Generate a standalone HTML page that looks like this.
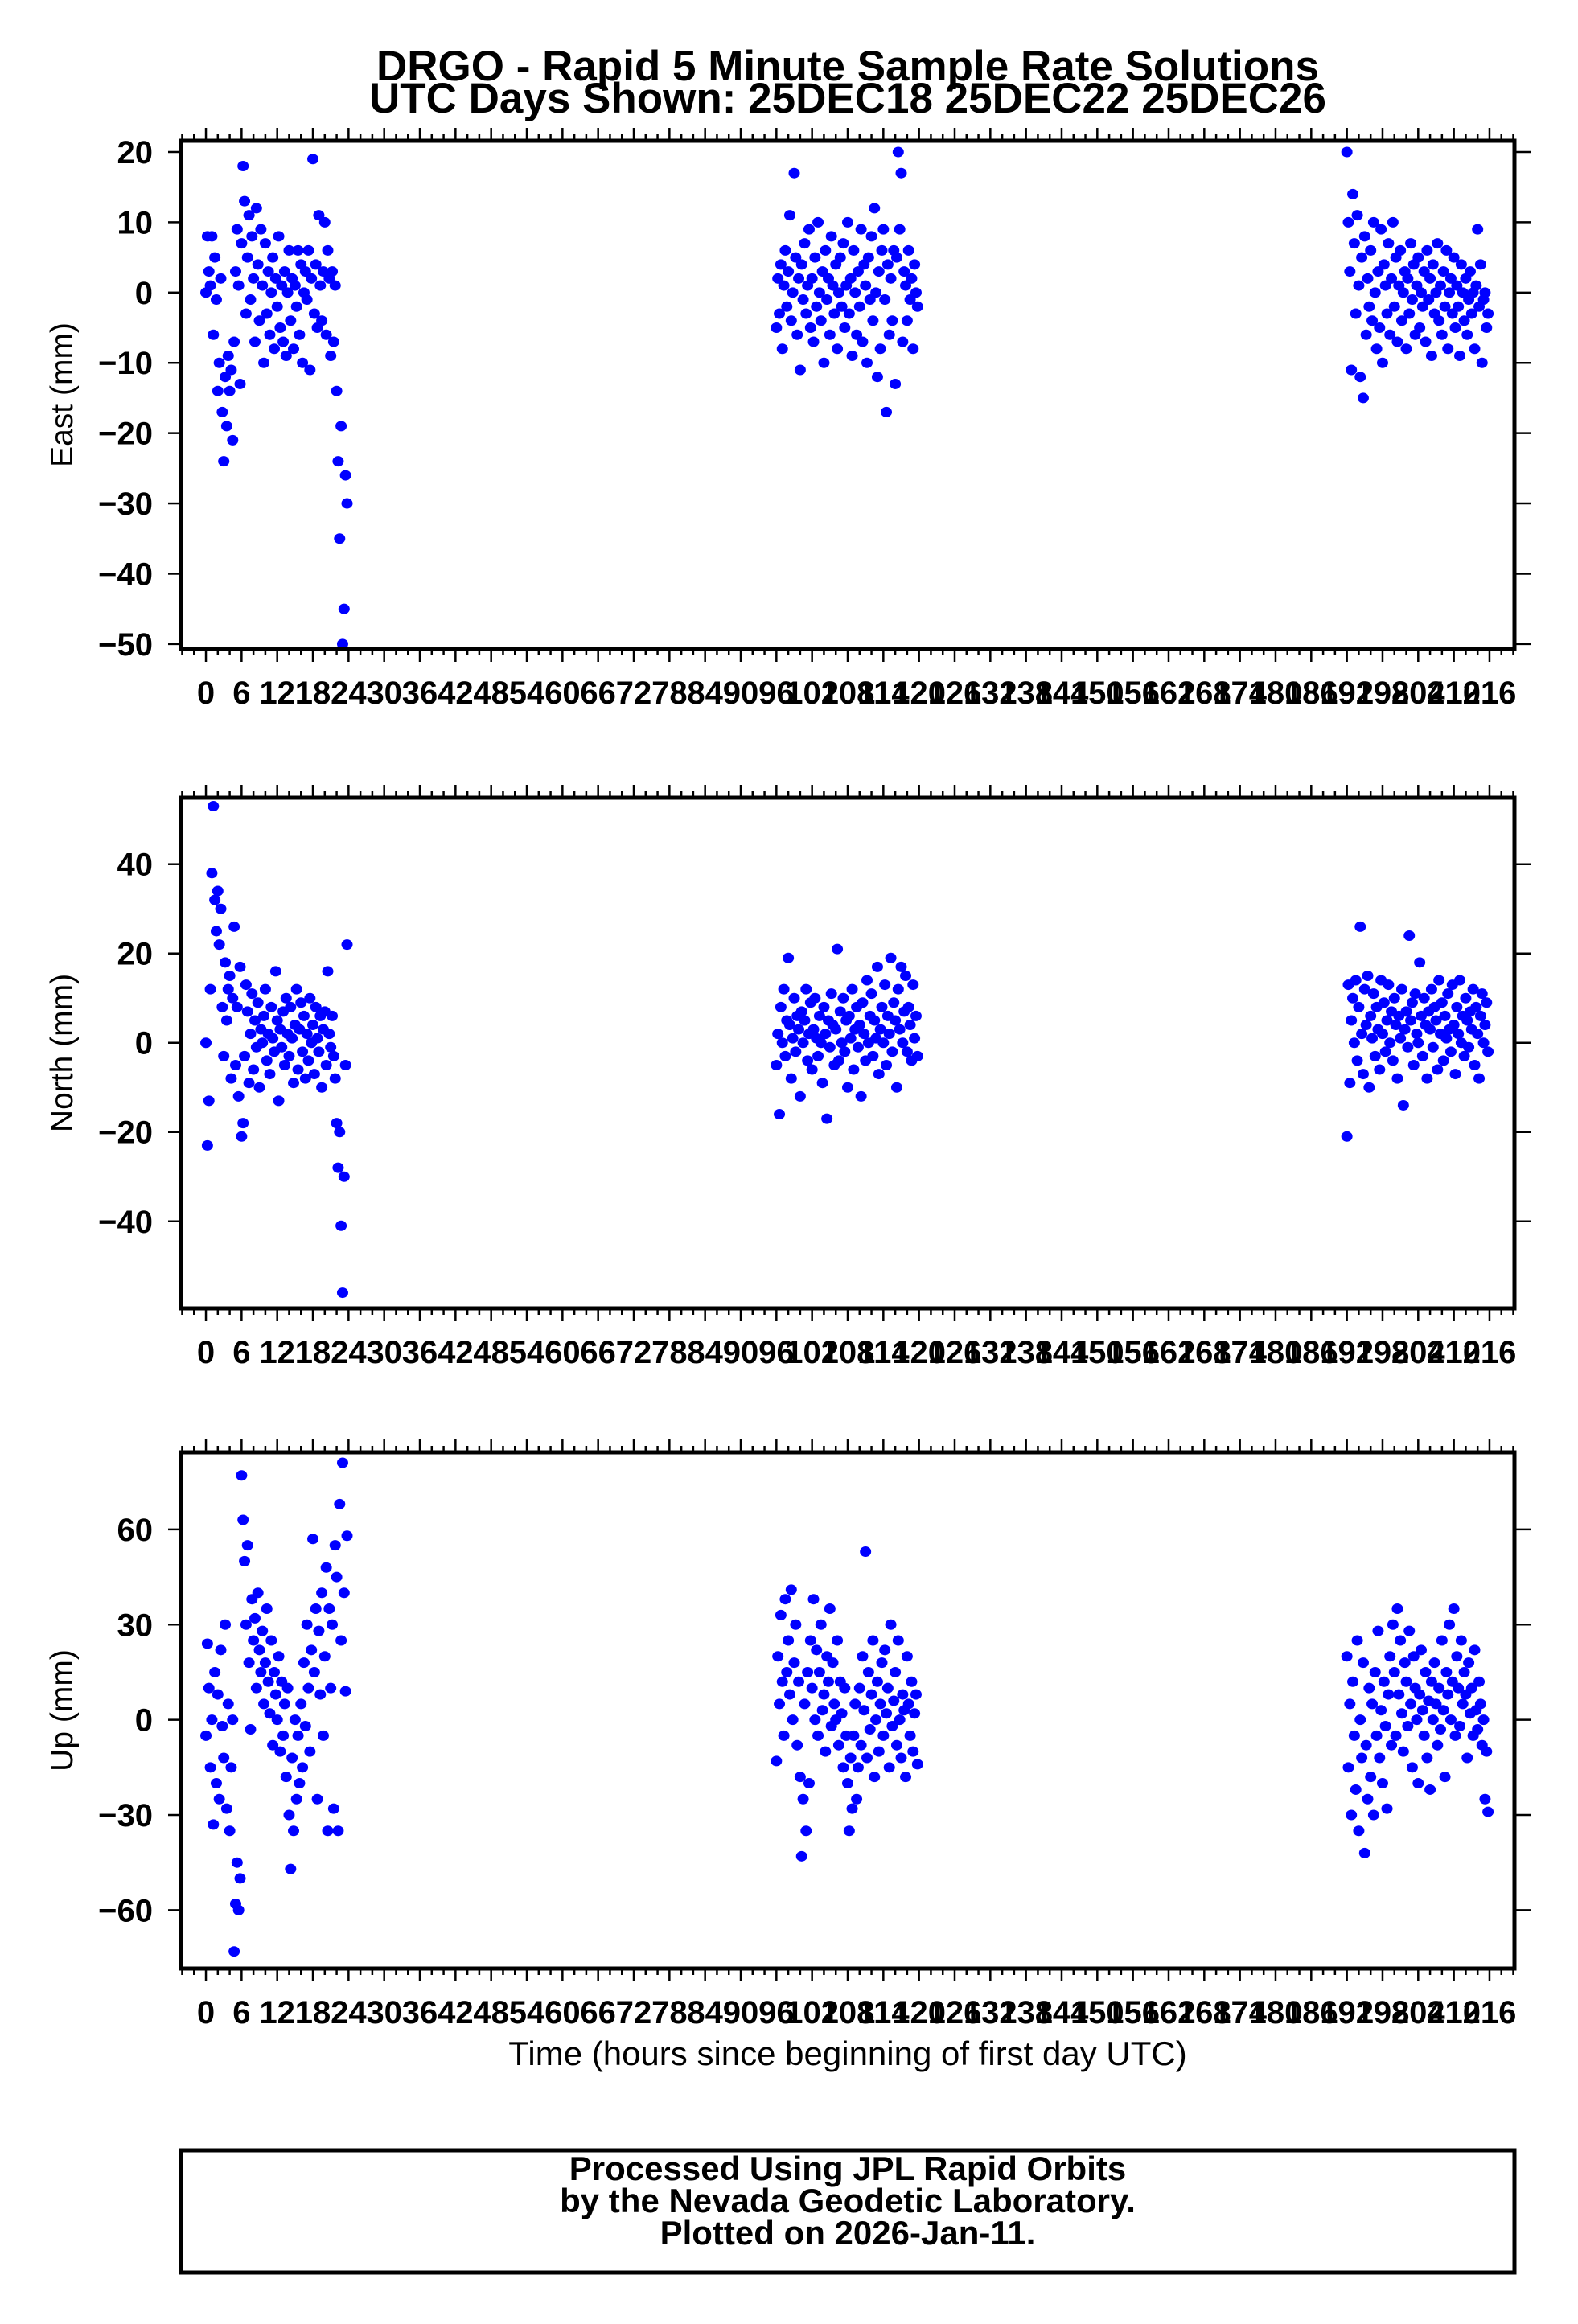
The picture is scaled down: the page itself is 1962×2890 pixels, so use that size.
<!DOCTYPE html>
<html><head><meta charset="utf-8"><style>
html,body{margin:0;padding:0;background:#fff;}
svg{display:block;font-family:"Liberation Sans",Arial,sans-serif;}
</style></head><body>
<svg id="chart" width="1962" height="2890" viewBox="0 0 1962 2890" xmlns="http://www.w3.org/2000/svg">
<rect x="0" y="0" width="1962" height="2890" fill="#fff"/>
<text x="1054" y="100" font-size="53" font-weight="bold" text-anchor="middle">DRGO - Rapid 5 Minute Sample Rate Solutions</text>
<text x="1054" y="140" font-size="53" font-weight="bold" text-anchor="middle">UTC Days Shown:  25DEC18 25DEC22 25DEC26</text>
<g id="plots"></g>
<text x="1054" y="2568" font-size="42" text-anchor="middle">Time (hours since beginning of first day UTC)</text>
<rect x="225" y="2674" width="1658" height="152" fill="none" stroke="#000" stroke-width="5"/>
<text x="1054" y="2711" font-size="42" font-weight="bold" text-anchor="middle">Processed Using JPL Rapid Orbits</text>
<text x="1054" y="2751" font-size="42" font-weight="bold" text-anchor="middle">by the Nevada Geodetic Laboratory.</text>
<text x="1054" y="2791" font-size="42" font-weight="bold" text-anchor="middle">Plotted on 2026-Jan-11.</text>
</svg>
<script>
const hoursA=[0,0.25,0.5,0.75,1,1.25,1.5,1.75,2,2.25,2.5,2.75,3,3.25,3.5,3.75,4,4.25,4.5,4.75,5,5.25,5.5,5.75,6,6.25,6.5,6.75,7,7.25,7.5,7.75,8,8.25,8.5,8.75,9,9.25,9.5,9.75,10,10.25,10.5,10.75,11,11.25,11.5,11.75,12,12.25,12.5,12.75,13,13.25,13.5,13.75,14,14.25,14.5,14.75,15,15.25,15.5,15.75,16,16.25,16.5,16.75,17,17.25,17.5,17.75,18,18.25,18.5,18.75,19,19.25,19.5,19.75,20,20.25,20.5,20.75,21,21.25,21.5,21.75,22,22.25,22.5,22.75,23,23.25,23.5,23.75];
const hoursB=[96,96.25,96.5,96.75,97,97.25,97.5,97.75,98,98.25,98.5,98.75,99,99.25,99.5,99.75,100,100.25,100.5,100.75,101,101.25,101.5,101.75,102,102.25,102.5,102.75,103,103.25,103.5,103.75,104,104.25,104.5,104.75,105,105.25,105.5,105.75,106,106.25,106.5,106.75,107,107.25,107.5,107.75,108,108.25,108.5,108.75,109,109.25,109.5,109.75,110,110.25,110.5,110.75,111,111.25,111.5,111.75,112,112.25,112.5,112.75,113,113.25,113.5,113.75,114,114.25,114.5,114.75,115,115.25,115.5,115.75,116,116.25,116.5,116.75,117,117.25,117.5,117.75,118,118.25,118.5,118.75,119,119.25,119.5,119.75];
const hoursC=[192,192.25,192.5,192.75,193,193.25,193.5,193.75,194,194.25,194.5,194.75,195,195.25,195.5,195.75,196,196.25,196.5,196.75,197,197.25,197.5,197.75,198,198.25,198.5,198.75,199,199.25,199.5,199.75,200,200.25,200.5,200.75,201,201.25,201.5,201.75,202,202.25,202.5,202.75,203,203.25,203.5,203.75,204,204.25,204.5,204.75,205,205.25,205.5,205.75,206,206.25,206.5,206.75,207,207.25,207.5,207.75,208,208.25,208.5,208.75,209,209.25,209.5,209.75,210,210.25,210.5,210.75,211,211.25,211.5,211.75,212,212.25,212.5,212.75,213,213.25,213.5,213.75,214,214.25,214.5,214.75,215,215.25,215.5,215.75];

const eastA=[0,8,3,1,8,-6,5,-1, -14,-10,2,-17,-24,-12,-19,-9, -14,-11,-21,-7,3,9,1,-13, 7,18,13,-3,5,11,-1,8, 2,-7,12,4,-4,9,1,-10, 7,-3,3,-6,0,5,-8,2, -2,8,-5,1,-7,3,-9,0, 6,-4,2,-8,1,-2,6,-6, 4,-10,0,3,-1,6,-11,2, 19,-3,4,-5,11,1,-4,3, 10,-6,6,2,-9,3,-7,1, -14,-24,-35,-19,-50,-45,-26,-30];
const eastB=[-5,2,-3,4,-8,1,6,-2, 3,11,-4,0,17,5,-6,2, -11,4,-1,7,-3,1,9,-5, 2,-7,5,-2,10,0,-4,3, -10,6,-1,2,-6,8,1,-3, 4,-8,0,5,-2,7,-5,1, 10,-3,2,-9,6,0,-6,3, -2,9,-7,4,1,-10,5,-1, 8,-4,12,0,-12,3,-8,6, 9,-1,-17,4,-6,2,-4,6, -13,5,20,9,17,-7,3,1, -4,6,-1,2,-8,4,0,-2];
const eastC=[20,10,3,-11,14,7,-3,11, 1,-12,5,-15,8,-6,2,-2, 6,-4,10,0,-8,3,-5,9, -10,4,1,-3,7,-6,2,10, -2,5,-7,1,6,-4,0,3, -8,2,-3,7,-1,4,-6,1, 5,-5,0,-2,3,-7,6,-1, 2,-9,4,-3,0,7,-4,1, -6,3,-2,6,-8,0,2,-3, 5,-5,1,-2,-9,4,0,-4, 2,-6,-1,3,-3,0,-8,1, 9,-2,4,-10,-1,0,-5,-3];

const northA=[0,-23,-13,12,38,53,32,25, 34,22,30,8,-3,18,5,12, 15,-8,10,26,-5,8,-12,17, -21,-18,-3,13,7,-9,2,11, -6,5,-1,9,-10,3,0,6, 12,-4,2,-7,8,1,-2,16, 5,-13,3,-1,7,-5,10,2, -3,8,1,-9,4,12,-6,3, 9,-2,6,-8,2,-4,10,0, 4,-7,8,1,-2,6,-10,3, 7,-5,16,2,-1,6,-3,-8, -18,-28,-20,-41,-56,-30,-5,22];
const northB=[-5,2,-16,8,0,12,-3,5, 19,4,-8,1,10,-2,6,3, -12,7,0,5,12,-4,2,9, -6,3,10,1,-3,6,0,-9, 8,2,-17,5,-1,11,4,-5, 3,21,-4,7,0,10,-2,5, -10,6,1,12,-6,3,8,-1, 4,-12,9,2,-4,14,0,6, 11,-3,5,1,17,-7,3,8, 0,13,-5,6,2,19,-2,9, 5,-10,12,3,17,0,7,15, -2,8,4,-4,13,1,6,-3];
const northC=[-21,13,-9,5,10,0,14,-4, 8,26,2,-7,12,4,15,-10, 6,1,11,-3,8,3,-6,14, 2,9,-2,5,13,0,7,-4, 10,4,-8,6,1,12,-14,3, 7,-1,24,5,9,-5,11,2, 0,18,6,-3,10,4,-8,7, 3,12,-1,8,5,-6,14,2, 9,-4,6,1,11,3,-2,13, 4,-7,8,2,14,0,6,-3, 10,5,-1,7,3,12,-5,8, 2,-8,6,11,0,4,9,-2];

const upA=[-5,24,10,-15,0,-33,15,-20, 8,-25,22,-2,-12,30,-28,5, -35,-15,0,-73,-58,-45,-60,-50, 77,63,50,30,55,18,-3,38, 25,32,10,40,22,15,28,5, 18,35,12,2,25,-8,15,8, 0,20,-10,12,-5,5,-18,10, -30,-47,-12,-35,0,-25,-5,-20, 5,-15,18,-2,30,10,-10,22, 57,15,35,-25,28,8,40,-5, 20,48,-35,35,10,30,-28,55, 45,-35,68,25,81,40,9,58];
const upB=[-13,20,5,33,12,-5,38,15, 25,8,41,0,18,30,-8,12, -18,-43,-25,5,-35,15,-20,25, 10,38,0,22,-5,15,30,3, 8,-10,20,12,35,-2,18,5, 0,25,-8,12,2,-15,10,-5, -20,-35,-12,-28,-5,5,-25,-15, 10,-8,20,3,53,-12,15,-3, 8,25,-18,0,12,-10,5,18, -5,22,2,10,-15,30,-2,6, 15,-8,25,0,-12,8,3,-18, 20,5,-5,12,-10,2,8,-14];
const upC=[20,-15,5,-30,12,-5,-22,25, -35,0,-12,18,-42,-8,-25,10, -18,5,-30,15,-5,28,-12,3, -20,12,-2,-28,8,20,-8,30, 15,-5,35,8,25,2,-10,18, 12,-2,28,5,-15,20,10,0, -20,8,22,3,-5,15,-12,6, -22,12,0,18,5,-8,10,-3, 25,3,-18,15,8,30,0,12, 35,-5,20,10,-2,25,5,15, 8,-12,18,2,10,-5,22,3, -3,12,5,-8,0,-25,-10,-29];

const xTickLabels=[0,6,12,18,24,30,36,42,48,54,60,66,72,78,84,90,96,102,108,114,120,126,132,138,144,150,156,162,168,174,180,186,192,198,204,210,216];
const eastTicks=[20,10,0,-10,-20,-30,-40,-50];
const northTicks=[40,20,0,-20,-40];
const upTicks=[60,30,0,-30,-60];

const NS='http://www.w3.org/2000/svg';
const L=225,R=1883,XMIN=-4.2,XMAX=220.2;
function xs(h){return L+(h-XMIN)/(XMAX-XMIN)*(R-L);}
function mk(tag,attrs,parent){const e=document.createElementNS(NS,tag);for(const k in attrs)e.setAttribute(k,attrs[k]);parent.appendChild(e);return e;}
const plots=document.getElementById('plots');

function panel(name,title,top,bot,ymin,ymax,ticks,series){
  const g=mk('g',{},plots);
  
  
  const ys=v=>bot-(v-ymin)/(ymax-ymin)*(bot-top);
  for(let h=-4;h<=220;h+=2){
    const x=xs(h);const major=(h%6===0);const len=major?16:8;
    const t1=mk('line',{x1:x,x2:x,y1:bot,y2:bot+len,stroke:'#000','stroke-width':2.5},g);
    
    
    const t2=mk('line',{x1:x,x2:x,y1:top,y2:top-len,stroke:'#000','stroke-width':2.5},g);
    
    
  }
  xTickLabels.forEach(v=>{
    const t=mk('text',{x:xs(v),y:bot+68,'font-size':40,'font-weight':'bold','text-anchor':'middle'},g);
    
    
    t.textContent=v;
  });
  ticks.forEach(v=>{
    const y=ys(v);
    const a=mk('line',{x1:L-16,x2:L,y1:y,y2:y,stroke:'#000','stroke-width':2.5},g);
    
    
    const b=mk('line',{x1:R,x2:R+20,y1:y,y2:y,stroke:'#000','stroke-width':2.5},g);
    
    
    const t=mk('text',{x:190,y:y+14,'font-size':40,'font-weight':'bold','text-anchor':'end'},g);
    
    
    t.textContent=(v<0?'\u2212'+(-v):v);
  });
  const yt=mk('text',{x:0,y:0,'font-size':39,'text-anchor':'middle',transform:'translate(90,'+((top+bot)/2)+') rotate(-90)'},g);
  
  
  yt.textContent=title;
  series.forEach(([hs,vs])=>{
    hs.forEach((h,i)=>{
      const c=mk('ellipse',{cx:xs(h),cy:ys(vs[i]),rx:7,ry:6.5,fill:'#0000ff'},g);
      
      
    });
  });
  const f=mk('rect',{x:L,y:top,width:R-L,height:bot-top,fill:'none',stroke:'#000','stroke-width':5},g);
  
  
}
panel('east','East (mm)',175,807,-50.7,21.6,eastTicks,[[hoursA,eastA],[hoursB,eastB],[hoursC,eastC]]);
panel('north','North (mm)',992,1627,-59.5,54.9,northTicks,[[hoursA,northA],[hoursB,northB],[hoursC,northC]]);
panel('up','Up (mm)',1806,2448,-78.4,84.3,upTicks,[[hoursA,upA],[hoursB,upB],[hoursC,upC]]);
</script>
</body></html>
